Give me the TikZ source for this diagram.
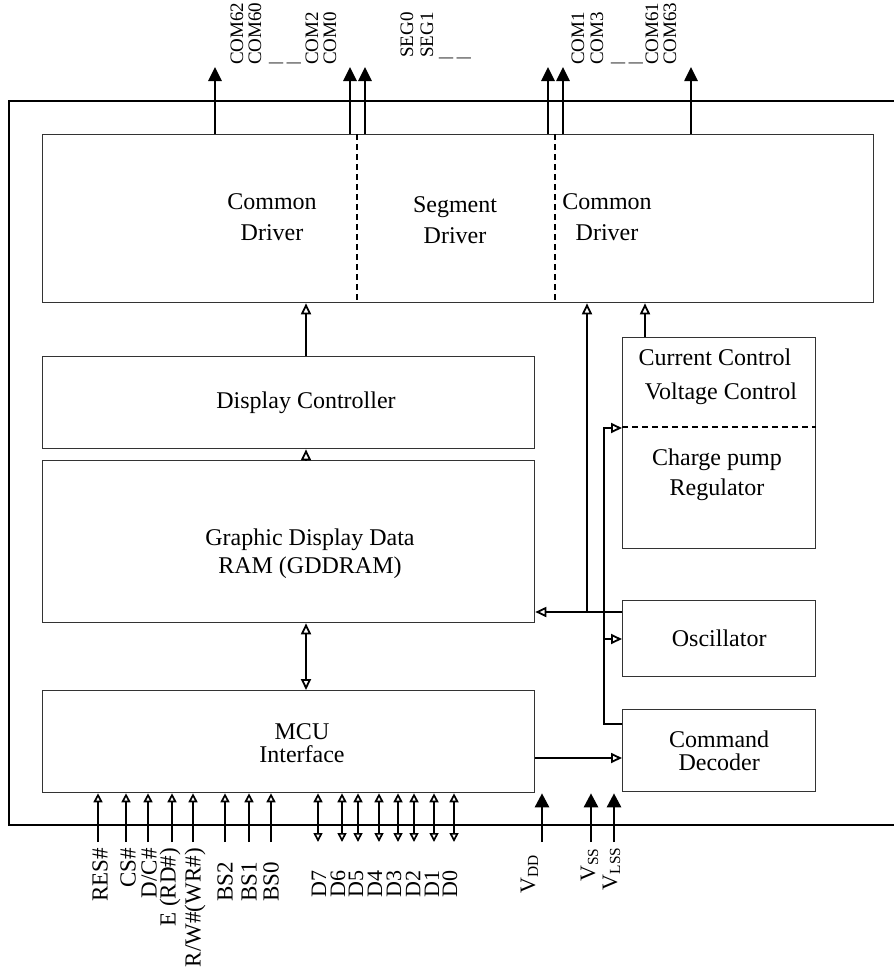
\documentclass[tikz,border=0pt]{standalone}
\usepackage{fontspec}
\setmainfont{Liberation Serif}
\usetikzlibrary{arrows.meta,positioning}

\begin{document}
\begin{tikzpicture}[x=1pt,y=-1pt,>=Stealth,font=\fontsize{24}{31}\selectfont,
  chip/.style={draw,line width=1.5pt,anchor=north west,inner sep=0pt},
  blk/.style={draw=black!80,line width=1.3pt,anchor=north west,inner sep=0pt,align=center},
  lbl/.style={align=center,inner sep=0pt},
  pinlbl/.style={rotate=90,anchor=west,inner sep=0pt,font=\fontsize{19}{19}\selectfont},
  inlbl/.style={rotate=90,anchor=east,inner sep=0pt,font=\fontsize{23}{23}\selectfont},
  vlbl/.style={rotate=90,anchor=base east,inner sep=0pt,font=\fontsize{22}{22}\selectfont},
  skipmark/.style={anchor=base,inner sep=0pt,text=black!60,font=\fontsize{28}{28}\selectfont},
  sep/.style={line width=1.6pt,dash pattern=on 6pt off 4pt},
  otip/.style={Triangle[open,width=10pt,length=11pt,line width=1.8pt]},
  conn/.style={line width=2.6pt,-{Triangle[open,width=10pt,length=11pt,line width=1.8pt]}},
  conn2/.style={line width=2pt,-{Triangle[open,width=10pt,length=11pt,line width=1.8pt]}},
  cbi/.style={line width=2.6pt,{Triangle[open,width=10pt,length=11pt,line width=1.8pt]}-{Triangle[open,width=10pt,length=11pt,line width=1.8pt]}},
  pout/.style={line width=2.6pt,-{Triangle[width=13pt,length=14pt]}},
  pvin/.style={line width=2.6pt,-{Triangle[width=14pt,length=14pt]}},
  pin/.style={line width=2.2pt,-{Triangle[open,width=9pt,length=9pt,line width=1.7pt]}},
  pbi/.style={line width=2.2pt,{Triangle[open,width=9pt,length=9pt,line width=1.7pt]}-{Triangle[open,width=9pt,length=9pt,line width=1.7pt]}}]

  \useasboundingbox (0,0) rectangle (894,980);

  % chip outline and blocks
  \node[chip,minimum width=920pt,minimum height=724pt] (chip) at (8,100) {};
  \node[blk,minimum width=831pt,minimum height=168pt] (cdrv) at (42,134) {};
  \node[blk,minimum width=492pt,minimum height=92pt] (dctl) at (42,356) {};
  \node[blk,minimum width=492pt,minimum height=162pt] (gram) at (42,460) {};
  \node[blk,minimum width=492pt,minimum height=102pt] (mcu) at (42,690) {};
  \node[blk,minimum width=193pt,minimum height=211pt] (pwr) at (622,337) {};
  \node[blk,minimum width=193pt,minimum height=76pt] (osc) at (622,600) {Oscillator};
  \node[blk,minimum width=193pt,minimum height=82pt,font=\fontsize{24}{23}\selectfont] (cmd) at (622,709) {Command\\Decoder};

  \node[lbl] (tcom1) at (272,217) {Common\\Driver};
  \node[lbl] (tseg) at (455,220) {Segment\\Driver};
  \node[lbl] (tcom2) at (607,217) {Common\\Driver};
  \node[lbl] (tdctl) at (306,403) {Display Controller};
  \node[lbl,font=\fontsize{24}{28}\selectfont] (tgram) at (310,554) {Graphic Display Data\\RAM (GDDRAM)};
  \node[lbl,font=\fontsize{24}{23}\selectfont] (tmcu) at (302,743) {MCU\\Interface};
  \node[lbl] (tcur) at (715,357) {Current Control};
  \node[lbl] (tvol) at (721,394) {Voltage Control};
  \node[lbl,font=\fontsize{24}{30}\selectfont] (tpump) at (717,475) {Charge pump\\Regulator};

  \coordinate (s1) at (357,0);
  \coordinate (s2) at (555,0);
  \coordinate (s3) at (0,427);
  \draw[sep] (cdrv.north -| s1) -- (cdrv.south -| s1);
  \draw[sep] (cdrv.north -| s2) -- (cdrv.south -| s2);
  \draw[sep] (pwr.west |- s3) -- (pwr.east |- s3);

  % internal data paths
  \draw[conn] (tdctl |- dctl.north) -- (tdctl |- cdrv.south);
  \draw[conn] (tdctl |- gram.north) -- (tdctl |- dctl.south);
  \draw[cbi] (tdctl |- gram.south) -- (tdctl |- mcu.north);
  \coordinate (j1) at (587,612);
  \draw[conn] (osc.west |- j1) -- (gram.east |- j1);
  \draw[conn] (j1) -- (cdrv.south -| j1);
  \coordinate (p1) at (645,0);
  \draw[conn] (pwr.north -| p1) -- (cdrv.south -| p1);
  \coordinate (k1) at (604,724);
  \coordinate (k2) at (604,428);
  \coordinate (k3) at (604,639);
  \draw[conn2] (cmd.west |- k1) -- (k1) -- (k2) -- (pwr.west |- k2);
  \draw[conn2] (k3) -- (osc.west |- k3);
  \coordinate (m1) at (0,758);
  \draw[conn2] (mcu.east |- m1) -- (cmd.west |- m1);

  % COM / SEG outputs
  \foreach \x in {215,350,365,548,563,691}{
    \coordinate (t\x) at (\x,67);
    \draw[pout] (cdrv.north -| t\x) -- (t\x);
  }
  \foreach \x/\y/\t in {237/65/COM62,255/65/COM60,312/65/COM2,330/65/COM0,407/58/SEG0,
    427/58/SEG1,578/65/COM1,597/65/COM3,652/65/COM61,670/65/COM63}
    \node[pinlbl] (l\t) at (\x,\y) {\t};
  \node[skipmark] (g1) at (285,60) {\_\hspace{4pt}\_};
  \node[skipmark] (g2) at (455,55) {\_\hspace{4pt}\_};
  \node[skipmark] (g3) at (627,60) {\_\hspace{4pt}\_};

  % MCU inputs
  \foreach \x/\lx/\n/\t/\ly in {98/100/res/RES\#/848,126/128/cs/CS\#/848,148/149/dc/{D/C\#}/848,
    172/170/e/{E (RD\#)}/848,193/195/rw/{R/W\#(WR\#)}/848,225/225/bstwo/BS2/862,
    249/249/bsone/BS1/862,271/271/bszero/BS0/862}{
    \coordinate (b\n) at (\x,842);
    \draw[pin] (b\n) -- (mcu.south -| b\n);
    \node[inlbl] (l\n) at (\lx,\ly) {\t};
  }
  \foreach \x/\lx/\n in {318/319/7,342/338/6,358/356/5,379/375/4,398/394/3,414/413/2,434/432/1,454/450/0}{
    \coordinate (d\n) at (\x,842);
    \draw[pbi] (d\n) -- (mcu.south -| d\n);
    \node[inlbl,font=\fontsize{22}{22}\selectfont] (ld\n) at (\lx,870) {D\n};
  }

  % supplies
  \foreach \x/\n in {542/dd,591/ss,614/lss}{
    \coordinate (v\n) at (\x,842);
    \draw[pvin] (v\n) -- (mcu.south -| v\n);
  }
  \node[vlbl] (lvdd) at (535,855) {V\textsubscript{DD}};
  \node[vlbl] (lvss) at (595,848) {V\textsubscript{SS}};
  \node[vlbl] (lvlss) at (617,847) {V\textsubscript{LSS}};
\end{tikzpicture}
\end{document}
